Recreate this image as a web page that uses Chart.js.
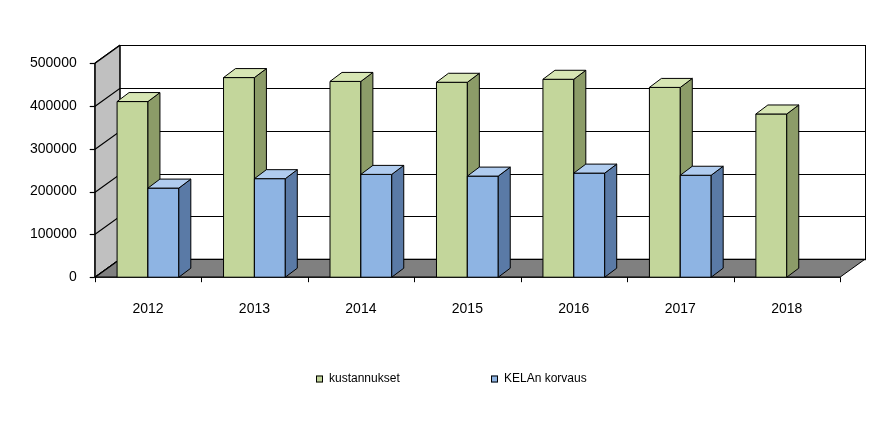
<!DOCTYPE html>
<html><head><meta charset="utf-8">
<script src="https://cdn.jsdelivr.net/npm/chart.js@4/dist/chart.umd.min.js"></script>
<style>html,body{margin:0;padding:0;background:#fff}#w{width:880px;height:424px}</style>
</head><body><div id="w"><canvas id="c"></canvas></div>
<script>
const categories = ['2012','2013','2014','2015','2016','2017','2018'];
const kustannukset = [410000, 466000, 457000, 455000, 462000, 443000, 381000];
const kelaKorvaus = [208000, 230000, 240000, 236000, 243000, 238000, null];
const yTicks = [0, 100000, 200000, 300000, 400000, 500000];
const seriesNames = ['kustannukset', 'KELAn korvaus'];

const DX = 25, DY = -18;   // wall depth
const BX = 12, BY = -9;    // bar depth
const faceCols = [
  {front:'#c3d69b', side:'#8c9c68', top:'#d7e6b4'},
  {front:'#8eb4e3', side:'#5a7aa6', top:'#b0ccef'}
];

function poly(ctx, pts, fill) {
  ctx.beginPath(); ctx.moveTo(pts[0][0], pts[0][1]);
  for (let i = 1; i < pts.length; i++) ctx.lineTo(pts[i][0], pts[i][1]);
  ctx.closePath(); ctx.fillStyle = fill; ctx.fill();
  ctx.strokeStyle = '#000'; ctx.lineWidth = 1; ctx.stroke();
}

const scene = {
  id: 'scene',
  beforeDatasetsDraw(chart) {
    const ctx = chart.ctx, a = chart.chartArea, y = chart.scales.y;
    const L = a.left, R = a.right, B = y.getPixelForValue(0), T = y.getPixelForValue(500000);
    ctx.save();
    ctx.fillStyle = '#fff'; ctx.fillRect(L+DX, T+DY, R-L, B-T);
    ctx.strokeStyle = '#000'; ctx.lineWidth = 1;
    ctx.strokeRect(L+DX+0.5, T+DY+0.5, R-L, B-T);
    poly(ctx, [[L,T],[L+DX,T+DY],[L+DX,B+DY],[L,B]], '#c0c0c0');
    poly(ctx, [[L,B],[R,B],[R+DX,B+DY],[L+DX,B+DY]], '#808080');
    ctx.strokeStyle = '#000'; ctx.lineWidth = 1.2;
    yTicks.forEach(v => {
      const py = Math.round(y.getPixelForValue(v)) + 0.5;
      ctx.beginPath(); ctx.moveTo(L, py); ctx.lineTo(L+DX, py+DY); ctx.lineTo(R+DX, py+DY); ctx.stroke();
      ctx.beginPath(); ctx.moveTo(L-5, py); ctx.lineTo(L, py); ctx.stroke();
    });
    ctx.lineWidth = 1;
    ctx.beginPath(); ctx.moveTo(L+0.5, T); ctx.lineTo(L+0.5, B); ctx.lineTo(R, B); ctx.stroke();
    const n = categories.length, step = (R-L)/n;
    for (let i = 0; i <= n; i++) {
      const px = Math.round(L + i*step) + 0.5;
      ctx.beginPath(); ctx.moveTo(px, B); ctx.lineTo(px, B+5); ctx.stroke();
    }
    ctx.restore();
  },
  afterDatasetsDraw(chart) {
    const ctx = chart.ctx;
    ctx.save();
    for (let i = 0; i < categories.length; i++) {
      [0,1].forEach(d => {
        const el = chart.getDatasetMeta(d).data[i];
        const v = chart.data.datasets[d].data[i];
        if (!el || v == null) return;
        const l = el.x - el.width/2, r = el.x + el.width/2, t = el.y, b = el.base;
        const c = faceCols[d];
        poly(ctx, [[l,t],[r,t],[r,b],[l,b]], c.front);
        poly(ctx, [[r,t],[r+BX,t+BY],[r+BX,b+BY],[r,b]], c.side);
        poly(ctx, [[l,t],[l+BX,t+BY],[r+BX,t+BY],[r,t]], c.top);
      });
    }
    ctx.restore();
  },
  afterDraw(chart) {
    const ctx = chart.ctx;
    ctx.save();
    ctx.font = '12px "Liberation Sans"'; ctx.textBaseline = 'middle'; ctx.fillStyle = '#000';
    const xs = [316, 491], yy = 379;
    seriesNames.forEach((name, d) => {
      ctx.fillStyle = faceCols[d].front; ctx.fillRect(xs[d], yy-3.5, 7, 7);
      ctx.strokeStyle = '#000'; ctx.lineWidth = 1; ctx.strokeRect(xs[d]+0.5, yy-3.5+0.5, 6, 6);
      ctx.fillStyle = '#000'; ctx.fillText(name, xs[d] + 13, yy);
    });
    ctx.restore();
  }
};

new Chart(document.getElementById('c'), {
  type: 'bar',
  data: {
    labels: categories,
    datasets: [
      {label: seriesNames[0], data: kustannukset, backgroundColor: '#c3d69b', borderColor: '#000', borderWidth: 1},
      {label: seriesNames[1], data: kelaKorvaus, backgroundColor: '#8eb4e3', borderColor: '#000', borderWidth: 1}
    ]
  },
  options: {
    responsive: true, maintainAspectRatio: false, animation: false,
    layout: {padding: {left: 20, right: 40, top: 63, bottom: 90}},
    datasets: {bar: {categoryPercentage: 0.58, barPercentage: 1}},
    plugins: {tooltip: {enabled: false}, legend: {display: false}},
    scales: {
      x: {grid: {display: false}, border: {display: false},
          ticks: {padding: 16, color: '#000', font: {family: 'Liberation Sans', size: 14}}},
      y: {min: 0, max: 500000, grid: {display: false}, border: {display: false},
          afterBuildTicks: s => { s.ticks = yTicks.map(v => ({value: v})); },
          ticks: {padding: 10, color: '#000', callback: v => String(v),
                  font: {family: 'Liberation Sans', size: 14}}}
    }
  },
  plugins: [scene]
});
</script></body></html>
